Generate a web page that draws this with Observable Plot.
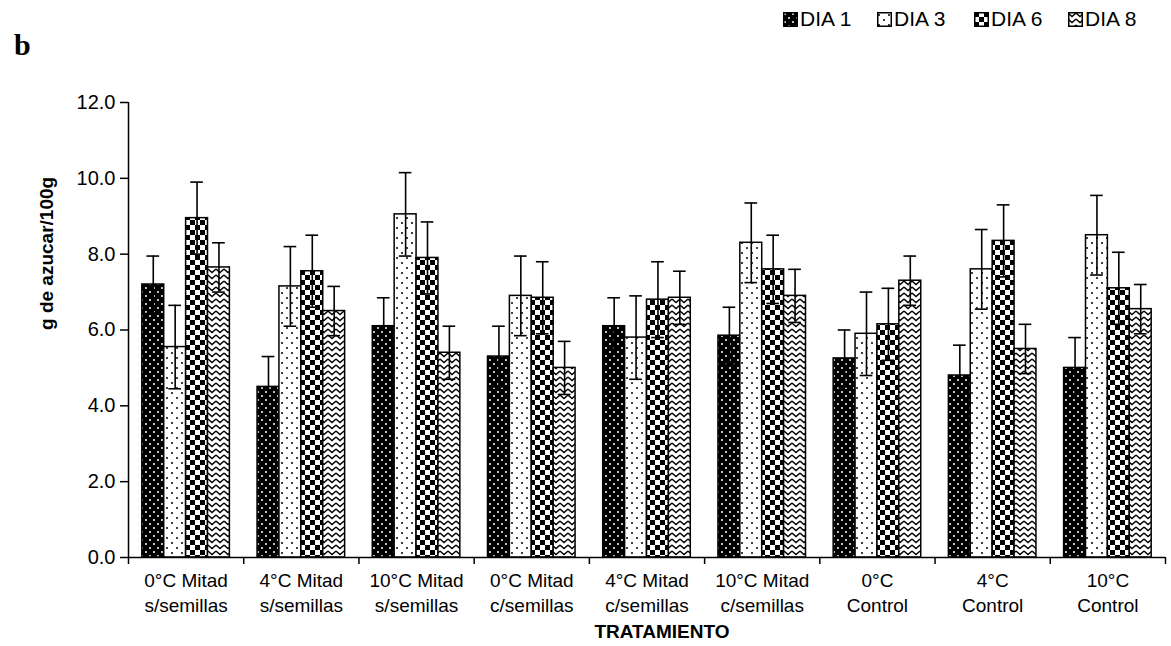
<!DOCTYPE html>
<html>
<head>
<meta charset="utf-8">
<script src="https://cdn.jsdelivr.net/npm/d3@7"></script>
<script src="https://cdn.jsdelivr.net/npm/@observablehq/plot@0.6"></script>
<style>
  body { margin: 0; background: #fff; font-family: "Liberation Sans", Arial, sans-serif; }
  #wrap { width: 1171px; }
  #head { position: relative; height: 70px; }
  #blabel { position: absolute; left: 14px; top: 28px; font-family: "Liberation Serif", "DejaVu Serif", serif; font-weight: bold; font-size: 30px; }
  .leg { position: absolute; top: 7px; display: flex; align-items: center; font-size: 21px; }
  .leg svg { margin-right: 2px; }
</style>
</head>
<body>
<svg width="0" height="0" style="position:absolute">
  <defs>
    <pattern id="p1" width="8" height="8" patternUnits="userSpaceOnUse">
      <rect width="8" height="8" fill="#000"/>
      <circle cx="2" cy="2" r="1" fill="#fff"/>
      <circle cx="6" cy="6" r="1" fill="#fff"/>
    </pattern>
    <pattern id="p3" width="10" height="10" patternUnits="userSpaceOnUse">
      <rect width="10" height="10" fill="#fff"/>
      <circle cx="2" cy="3" r="1" fill="#000"/>
      <circle cx="7" cy="8" r="1" fill="#000"/>
    </pattern>
    <pattern id="p6" width="10" height="10" patternUnits="userSpaceOnUse">
      <rect width="10" height="10" fill="#fff"/>
      <rect width="5" height="5" fill="#000"/>
      <rect x="5" y="5" width="5" height="5" fill="#000"/>
    </pattern>
    <pattern id="p8" width="8" height="6" patternUnits="userSpaceOnUse">
      <rect width="8" height="6" fill="#fff"/>
      <path d="M0,1 L4,4.5 L8,1" fill="none" stroke="#000" stroke-width="1.4"/>
    </pattern>
  </defs>
</svg>
<div id="wrap">
  <div id="head"><div id="blabel">b</div></div>
  <div id="chart"></div>
</div>
<script>
const groups = [
  "0°C Mitad\ns/semillas", "4°C Mitad\ns/semillas", "10°C Mitad\ns/semillas",
  "0°C Mitad\nc/semillas", "4°C Mitad\nc/semillas", "10°C Mitad\nc/semillas",
  "0°C\nControl", "4°C\nControl", "10°C\nControl"
];
const series = ["DIA 1", "DIA 3", "DIA 6", "DIA 8"];
const patterns = ["url(#p1)", "url(#p3)", "url(#p6)", "url(#p8)"];

const dia1 = [7.2, 4.5, 6.1, 5.3, 6.1, 5.85, 5.25, 4.8, 5.0];
const dia1Err = [0.75, 0.8, 0.75, 0.8, 0.75, 0.75, 0.75, 0.8, 0.8];
const dia3 = [5.55, 7.15, 9.05, 6.9, 5.8, 8.3, 5.9, 7.6, 8.5];
const dia3Err = [1.1, 1.05, 1.1, 1.05, 1.1, 1.05, 1.1, 1.05, 1.05];
const dia6 = [8.95, 7.55, 7.9, 6.85, 6.8, 7.6, 6.15, 8.35, 7.1];
const dia6Err = [0.95, 0.95, 0.95, 0.95, 1.0, 0.9, 0.95, 0.95, 0.95];
const dia8 = [7.65, 6.5, 5.4, 5.0, 6.85, 6.9, 7.3, 5.5, 6.55];
const dia8Err = [0.65, 0.65, 0.7, 0.7, 0.7, 0.7, 0.65, 0.65, 0.65];

const values = [dia1, dia3, dia6, dia8];
const errs = [dia1Err, dia3Err, dia6Err, dia8Err];

// legend
const legLeft = [783, 877, 974, 1068];
const head = document.getElementById("head");
series.forEach((s, i) => {
  const d = document.createElement("div");
  d.className = "leg";
  d.style.left = legLeft[i] + "px";
  d.innerHTML = `<svg width="15" height="15"><rect x="0.75" y="0.75" width="13.5" height="13.5" fill="${patterns[i]}" stroke="#000" stroke-width="1.5"/></svg><span>${s}</span>`;
  head.appendChild(d);
});

const barW = 0.19;
const data = [];
series.forEach((s, si) => {
  groups.forEach((g, gi) => {
    const x1 = gi - 2 * barW + si * barW;
    data.push({g: gi, s, si, v: values[si][gi], e: errs[si][gi], x1, x2: x1 + barW, xc: x1 + barW / 2});
  });
});

const chart = Plot.plot({
  width: 1171,
  height: 576,
  marginLeft: 128,
  marginRight: 6,
  marginTop: 32,
  marginBottom: 89,
  style: {fontFamily: "'Liberation Sans', Arial, sans-serif", color: "#000", background: "#fff"},
  x: {domain: [-0.5, 8.5]},
  y: {domain: [0, 12]},
  marks: [
    Plot.rectY(data, {x1: "x1", x2: "x2", y: "v", fill: d => patterns[d.si], stroke: "#000", strokeWidth: 1.5}),
    Plot.ruleX(data, {x: "xc", y1: d => d.v - d.e, y2: d => d.v + d.e, stroke: "#000", strokeWidth: 1.6}),
    Plot.ruleY(data, {y: d => d.v + d.e, x1: d => d.xc - 0.055, x2: d => d.xc + 0.055, stroke: "#000", strokeWidth: 1.6}),
    Plot.ruleY(data, {y: d => d.v - d.e, x1: d => d.xc - 0.055, x2: d => d.xc + 0.055, stroke: "#000", strokeWidth: 1.6}),
    Plot.ruleY([0], {stroke: "#000", strokeWidth: 1.5}),
    Plot.ruleX([-0.5], {stroke: "#000", strokeWidth: 1.5}),
    Plot.axisY({ticks: d3.range(0, 13, 2), tickFormat: d3.format(".1f"), tickSize: 8, tickPadding: 5, fontSize: 20, label: null, strokeWidth: 1.5}),
    Plot.axisX({ticks: d3.range(-0.5, 9, 1), tickFormat: () => "", tickSize: 7, label: null, strokeWidth: 1.5}),
    Plot.axisX({ticks: d3.range(0, 9), tickFormat: i => groups[i], tickSize: 0, tickPadding: 12, fontSize: 19, lineHeight: 1.3, label: null}),
    Plot.text(["g de azucar/100g"], {frameAnchor: "left", rotate: -90, dx: -82, fontSize: 19, fontWeight: "bold"}),
    Plot.text(["TRATAMIENTO"], {frameAnchor: "bottom", dy: 80, dx: 15, fontSize: 19, fontWeight: "bold"})
  ]
});
document.getElementById("chart").appendChild(chart);
</script>
</body>
</html>
